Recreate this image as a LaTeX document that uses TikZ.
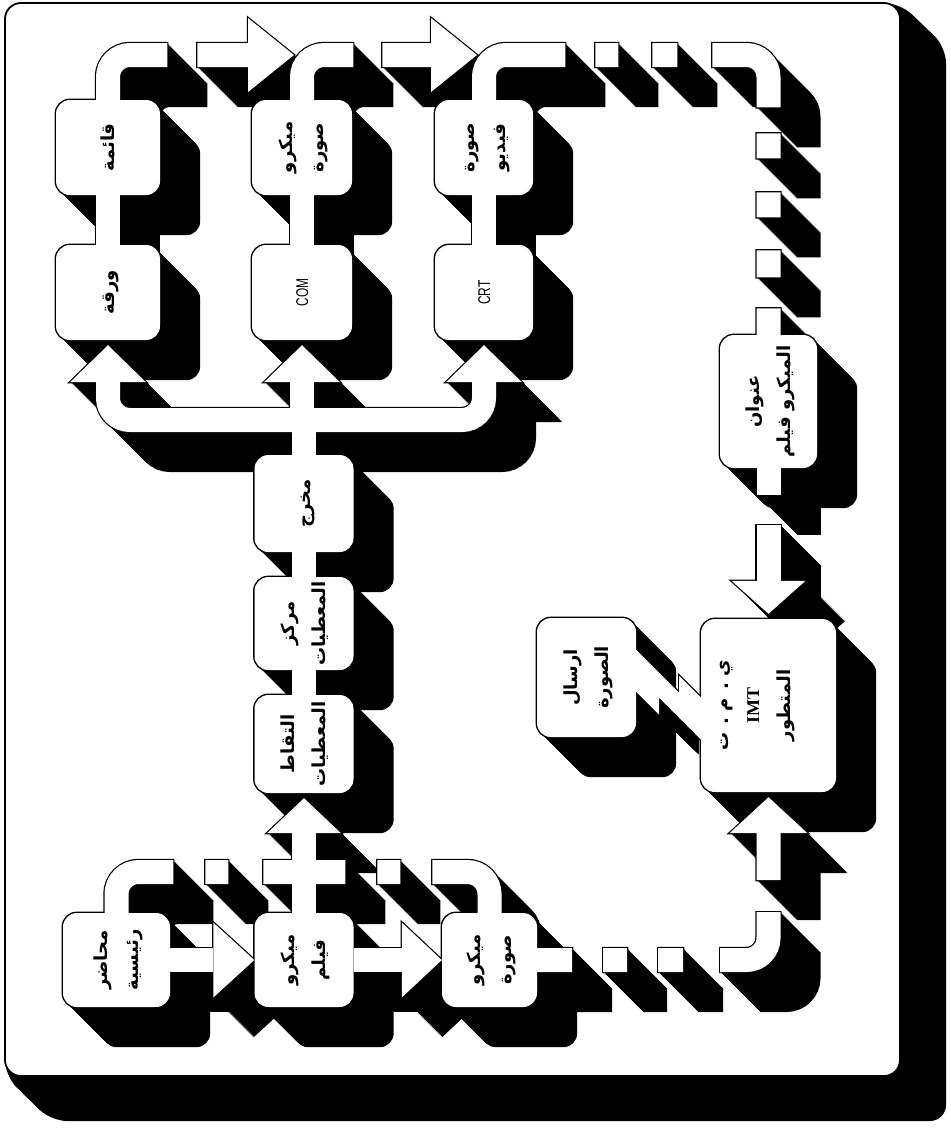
\documentclass[tikz,border=0pt]{standalone}
\usepackage{fontspec}
\usepackage{graphicx}
\usetikzlibrary{calc}
\newfontfamily\arabicfont[Script=Arabic]{DejaVu Sans}
\newfontfamily\latinsans{Liberation Sans}
\newfontfamily\latinserif{Liberation Serif}
\TeXXeTstate=1

\pgfdeclarelayer{shade}
\pgfdeclarelayer{rim}
\pgfsetlayers{shade,rim,main}

\newcommand\ar[1]{\beginR #1\endR}
\newcommand\vtext[1]{\rotatebox{90}{\begin{tabular}{@{}c@{}}#1\end{tabular}}}

\tikzset{
  box/.style={rectangle, rounded corners=14pt, fill=white, inner sep=0pt,
              font=\arabicfont\bfseries\fontsize{18}{31}\selectfont},
  % white pass
  fillpass/.style={
    area/.style={fill=white},
    pipe/.style={draw=white, line width=24pt, rounded corners=22pt},
    gapsList/.style={dash pattern=on 94.6pt off 30pt on 100pt},
    gapsImg/.style={dash pattern=on 86.6pt off 29pt on 100pt},
    gapsVideo/.style={dash pattern=on 116.6pt off 30pt on 23pt off 34pt on 25pt off 35pt
        on 99.1pt off 26pt on 25pt off 34pt on 25pt off 33pt on 27pt off 31pt on 100pt},
    gapsRec/.style={dash pattern=on 88.1pt off 32pt on 23pt off 35pt on 82pt off 32pt
        on 23pt off 32pt on 200pt},
    gapsImt/.style={dash pattern=on 35pt off 31pt on 24pt off 31pt on 25pt off 37pt
        on 86.6pt off 32pt on 100pt},
    gapsAddr/.style={dash pattern=on 27pt off 30pt on 100pt}},
  % black extrusion pass
  shadepass/.style={fillpass,
    area/.style={fill=black},
    pipe/.style={draw=black, line width=24pt, rounded corners=22pt}},
  % black outline pass
  rimpass/.style={
    area/.style={draw=black, line width=2.4pt},
    pipe/.style={draw=black, line width=26.4pt, rounded corners=22pt,
                 shorten <=-1.2pt, shorten >=-1.2pt},
    gapsList/.style={dash pattern=on 97pt off 27.6pt on 102.4pt},
    gapsImg/.style={dash pattern=on 89pt off 26.6pt on 102.4pt},
    gapsVideo/.style={dash pattern=on 119pt off 27.6pt on 25.4pt off 31.6pt on 27.4pt
        off 32.6pt on 101.5pt off 23.6pt on 27.4pt off 31.6pt on 27.4pt off 30.6pt
        on 29.4pt off 28.6pt on 102.4pt},
    gapsRec/.style={dash pattern=on 90.5pt off 29.6pt on 25.4pt off 32.6pt on 84.4pt
        off 29.6pt on 25.4pt off 29.6pt on 202.4pt},
    gapsImt/.style={dash pattern=on 37.4pt off 28.6pt on 26.4pt off 28.6pt on 27.4pt
        off 34.6pt on 89pt off 29.6pt on 102.4pt},
    gapsAddr/.style={dash pattern=on 29.4pt off 27.6pt on 102.4pt}},
}

\newcommand\boxparts{%
  \foreach \b in {list,paper,microimg,com,video,crt,addr,output,dcentre,dcapture,
                  records,microfilm,microimgb,send,imt}
    \path[area, rounded corners=14pt] (\b.south west) rectangle (\b.north east);
}

\newcommand\flowparts{%
  % arrow heads
  \path[area] (tipA) -- ++(-46,-37) -- ++(0,74) -- cycle;
  \path[area] (tipB) -- ++(-46,-37) -- ++(0,74) -- cycle;
  \foreach \n in {paper,com,crt}
    \path[area] ($(\n.south)+(0,5)$) -- ++(-38,37) -- ++(76,0) -- cycle;
  \path[area] ($(microfilm.north |- dcapture.south)+(0,5)$) -- ++(-37,35) -- ++(74,0) -- cycle;
  \path[area] (microfilm.west) -- ++(-41,-37.5) -- ++(0,75) -- cycle;
  \path[area] (microimgb.west) -- ++(-40,-37.5) -- ++(0,75) -- cycle;
  \path[area] ($(imt.north)+(0,-5)$) -- ++(-37,-33) -- ++(74,0) -- cycle;
  \path[area] ($(imt.south)+(0,5)$) -- ++(-39,36) -- ++(78,0) -- cycle;
  % lightning link
  \path[area] ($(send.north east)+(0,32)$) -- ++(43,43) -- ++(0,-17) -- ++(22,22)
        -- ++(0,42) -- ++(-42,-42) -- ++(0,17) -- ++(-23,-23) -- cycle;
  % solid pipes
  \path[pipe] (list.south) -- (paper.north);
  \path[pipe] (microimg.south) -- (com.north);
  \path[pipe] (video.south) -- (crt.north);
  \path[pipe] (output.south) -- (dcentre.north);
  \path[pipe] (dcentre.south) -- (dcapture.north);
  \path[pipe] (output.north) -- (output.north |- band);
  \path[pipe] ($(paper.south)+(0,42)$) |- (band -| crt.south) -- ($(crt.south)+(0,42)$);
  \path[pipe] ($(com.south)+(0,42)$) -- (com.south |- band);
  \path[pipe] (microfilm.north) -- ($(microfilm.north |- dcapture.south)+(0,40)$);
  \path[pipe] (records.east) -- ($(microfilm.west)+(-41,0)$);
  \path[pipe] (microfilm.east) -- ($(microimgb.west)+(-40,0)$);
  % broken pipes
  \path[pipe, gapsList] (list.north) |- ($(tipA)+(-46,0)$);
  \path[pipe, gapsImg] (microimg.north) |- ($(tipB)+(-46,0)$);
  \path[pipe, gapsVideo] (video.north) |- (addr.north |- topline) -- (addr.north);
  \path[pipe, gapsRec] (records.north) |- (microimgb.north |- recline) -- (microimgb.north);
  \path[pipe, gapsImt] (microimgb.east) -| ($(imt.south)+(0,41)$);
  \path[pipe, gapsAddr] (addr.south) -- ($(imt.north)+(0,-38)$);
}

\begin{document}
\begin{tikzpicture}[x=1pt, y=-1pt]
\useasboundingbox (0,0) rectangle (951,1128);

% ── Boxes ─────────────────────────────────────────────────────────────────────
\node[box, minimum width=104, minimum height=95] (list) at (108,147.5) {\vtext{\ar{قائمة}}};
\node[box, minimum width=104, minimum height=95] (paper) at (108,292.5) {\vtext{\ar{ورقة}}};
\node[box, minimum width=100, minimum height=95] (microimg) at (302,147.5)
     {\vtext{\ar{ميكرو}\\\ar{صورة}}};
\node[box, minimum width=100, minimum height=95] (com) at (302,292.5)
     {\vtext{\latinsans\mdseries\fontsize{17}{17}\selectfont\scalebox{.7}[1]{COM}}};
\node[box, minimum width=98, minimum height=95] (video) at (484,147.5)
     {\vtext{\ar{صورة}\\\ar{فيديو}}};
\node[box, minimum width=98, minimum height=95] (crt) at (484,292.5)
     {\vtext{\latinsans\mdseries\fontsize{17}{17}\selectfont\scalebox{.7}[1]{CRT}}};
\node[box, minimum width=97, minimum height=133] (addr) at (768.5,401.5)
     {\vtext{\ar{عنوان}\\\ar{الميكرو فيلم}}};
\node[box, minimum width=99, minimum height=97] (output) at (304,503.5) {\vtext{\ar{مخرج}}};
\node[box, minimum width=99, minimum height=93] (dcentre) at (304,623.5)
     {\vtext{\ar{مركز}\\\ar{المعطيات}}};
\node[box, minimum width=99, minimum height=98] (dcapture) at (304,744)
     {\vtext{\ar{التقاط}\\\ar{المعطيات}}};
\node[box, minimum width=107, minimum height=94] (records) at (116.5,960)
     {\vtext{\ar{محاضر}\\\ar{رئيسية}}};
\node[box, minimum width=99, minimum height=94] (microfilm) at (304,960)
     {\vtext{\ar{ميكرو}\\\ar{فيلم}}};
\node[box, minimum width=95, minimum height=94] (microimgb) at (489.5,960)
     {\vtext{\ar{ميكرو}\\\ar{صورة}}};
\node[box, minimum width=99, minimum height=119] (send) at (586.5,677.5)
     {\vtext{\ar{ارسال}\\\ar{الصورة}}};
\node[box, minimum width=135, minimum height=173] (imt) at (768.5,705.5)
     {\vtext{\ar{ي . م . ت}\\{\latinserif IMT}\\\ar{المتطور}\\\mbox{}}};

% ── Free ends ─────────────────────────────────────────────────────────────────
\coordinate (topline) at (0,55);
\coordinate (band) at (0,420);
\coordinate (recline) at (0,872);
\coordinate (tipA) at (294,55);
\coordinate (tipB) at (477,55);

% ── Frame and extrusion ───────────────────────────────────────────────────────
\begin{pgfonlayer}{shade}
  \fill[white] (0,0) rectangle (951,1128);
  \fill[black, rounded corners=16pt] (5,3) -- (900,3) -- (946,47) -- (946,1121)
       -- (51,1121) -- (5,1076) -- cycle;
  \draw[line width=1.8pt, fill=white, rounded corners=16pt] (5,3) rectangle (900,1076);
  \foreach \k in {1,...,40} {
    \begin{scope}[shadepass, transform canvas={shift={(\k pt,-\k pt)}}]
      \boxparts
      \flowparts
    \end{scope}
  }
\end{pgfonlayer}

% ── Outlines ──────────────────────────────────────────────────────────────────
\begin{pgfonlayer}{rim}
  \begin{scope}[rimpass]
    \boxparts
    \flowparts
  \end{scope}
\end{pgfonlayer}

% ── White pipes and heads ─────────────────────────────────────────────────────
\begin{scope}[fillpass]
  \flowparts
\end{scope}

\end{tikzpicture}
\end{document}
